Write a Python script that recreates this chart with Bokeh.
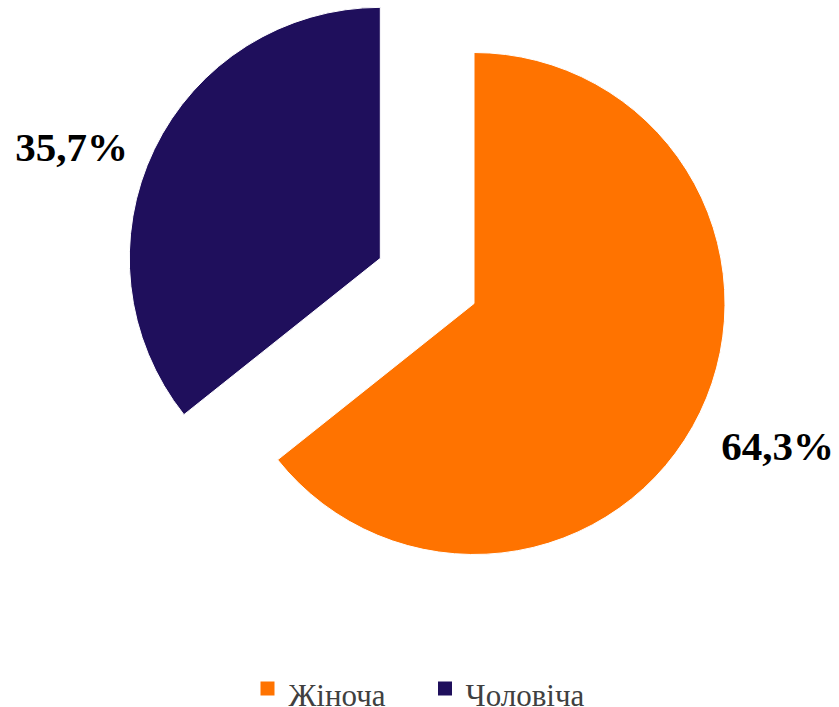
from bokeh.plotting import figure
from bokeh.models import Range1d, ColumnDataSource
from bokeh.core.properties import value
from bokeh.embed import file_html
from bokeh.resources import INLINE
import math

# ---- data ----
categories = ["Жіноча", "Чоловіча"]
shares = [64.3, 35.7]
labels = ["64,3%", "35,7%"]
colors = ["#FF7300", "#1F0F5C"]

# ---- layout constants (pixels) ----
W, H = 839, 707
center = (473.5, 404.0)   # data coords (x right, y up)
radius = 251
explode = [0, 104]        # pixel offset of each slice along its mid-angle
label_pos = [(777, 262), (71, 561)]
legend_sq = [(267, 19), (444.5, 19)]
legend_txt = [(288, 12), (465, 12)]

p = figure(width=W, height=H, output_backend="svg", toolbar_location=None,
           x_range=Range1d(0, W), y_range=Range1d(0, H), min_border=0)
p.axis.visible = False
p.grid.visible = False
p.outline_line_color = None
p.background_fill_color = "white"

total = sum(shares)
start = math.pi / 2
for i, (cat, v) in enumerate(zip(categories, shares)):
    sweep = 2 * math.pi * v / total
    end = start - sweep  # clockwise
    mid = (start + end) / 2
    cx = center[0] + explode[i] * math.cos(mid)
    cy = center[1] + explode[i] * math.sin(mid)
    p.wedge(x=[cx], y=[cy], radius=radius, start_angle=end, end_angle=start,
            fill_color=colors[i], line_color="white", line_width=1)
    start = end

src = ColumnDataSource(dict(x=[lp[0] for lp in label_pos], y=[lp[1] for lp in label_pos], t=labels))
p.text(x="x", y="y", text="t", source=src, text_font=value("Liberation Serif"),
       text_font_size="41px", text_font_style="bold", text_align="center",
       text_baseline="alphabetic", text_color="black")

# legend (drawn manually)
lsrc = ColumnDataSource(dict(x=[s[0] for s in legend_sq], y=[s[1] for s in legend_sq], c=colors))
p.rect(x="x", y="y", width=14, height=14, fill_color="c", line_color=None, source=lsrc)
tsrc = ColumnDataSource(dict(x=[t[0] for t in legend_txt], y=[t[1] for t in legend_txt], t=categories))
p.text(x="x", y="y", text="t", source=tsrc,
       text_font=value("Liberation Serif"),
       text_font_size="31px", text_font_style="normal", text_align="left",
       text_baseline="alphabetic", text_color="#404040")

open("out.html", "w").write(file_html(p, INLINE))
